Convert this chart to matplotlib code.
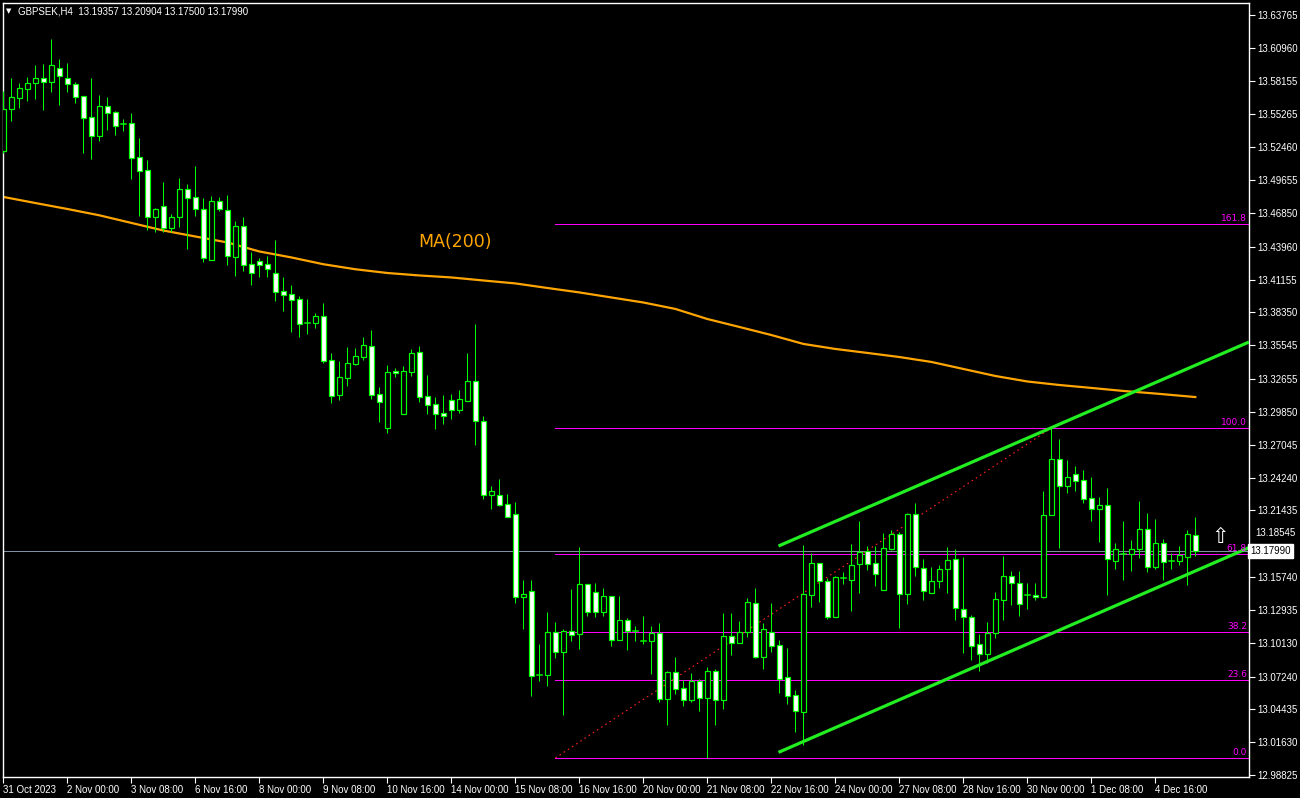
import matplotlib
matplotlib.use("Agg")
import matplotlib.pyplot as plt
from matplotlib.patches import Rectangle
import matplotlib.transforms as mtransforms

# ---------------- data ----------------
symbol_title = "GBPSEK,H4  13.19357 13.20904 13.17500 13.17990"

opens = [
13.5217, 13.5571, 13.5665, 13.5747, 13.5793, 13.5836, 13.5807, 13.5921, 13.5836, 13.5785,
13.5682, 13.5503, 13.5345, 13.5597, 13.5545, 13.5443, 13.5451, 13.5161, 13.5050, 13.4653,
13.4742, 13.4559, 13.4653, 13.4887, 13.4819, 13.4717, 13.4281, 13.4785, 13.4708, 13.4312,
13.4571, 13.4247, 13.4272, 13.4247, 13.4170, 13.4016, 13.3990, 13.3948, 13.3748, 13.3748,
13.3805, 13.3426, 13.3132, 13.3278, 13.3397, 13.3457, 13.3546, 13.3136, 13.2850, 13.3332,
13.2970, 13.3329, 13.3495, 13.3118, 13.3050, 13.2973, 13.3084, 13.3004, 13.3081, 13.3247,
13.2905, 13.2278, 13.2273, 13.2196, 13.2110, 13.1406, 13.1452, 13.0737, 13.0740, 13.1102,
13.0936, 13.1116, 13.1085, 13.1512, 13.1444, 13.1278, 13.1410, 13.1034, 13.1205, 13.1116,
13.1025, 13.1025, 13.1093, 13.0530, 13.0760, 13.0624, 13.0526, 13.0686, 13.0543, 13.0771,
13.0521, 13.1068, 13.1013, 13.1102, 13.1350, 13.0894, 13.1107, 13.0991, 13.0718, 13.0564,
13.0424, 13.1423, 13.1692, 13.1540, 13.1235, 13.1566, 13.1551, 13.1683, 13.1794, 13.1692,
13.1461, 13.1816, 13.1939, 13.1427, 13.2110, 13.1654, 13.1440, 13.1538, 13.1640, 13.1726,
13.1299, 13.1230, 13.1000, 13.0914, 13.1093, 13.1380, 13.1581, 13.1521, 13.1423, 13.1418,
13.1406, 13.2107, 13.2580, 13.2355, 13.2452, 13.2401, 13.2247, 13.2158, 13.2187, 13.1714,
13.1774, 13.1774, 13.1816, 13.1982, 13.1662, 13.1868, 13.1714, 13.1714, 13.1748, 13.19357]

highs = [
13.5727, 13.5836, 13.5793, 13.5845, 13.5950, 13.5958, 13.6172, 13.6001, 13.5967, 13.5802,
13.5682, 13.5836, 13.5693, 13.5676, 13.5557, 13.5488, 13.5539, 13.5328, 13.5138, 13.4725,
13.4950, 13.4676, 13.4984, 13.4933, 13.5086, 13.4810, 13.4830, 13.4819, 13.4839, 13.4617,
13.4651, 13.4349, 13.4300, 13.4318, 13.4454, 13.4138, 13.4070, 13.3976, 13.3950, 13.3828,
13.3916, 13.3491, 13.3420, 13.3540, 13.3531, 13.3625, 13.3685, 13.3198, 13.3386, 13.3358,
13.3378, 13.3520, 13.3546, 13.3301, 13.3110, 13.3130, 13.3138, 13.3172, 13.3489, 13.3736,
13.2950, 13.2352, 13.2412, 13.2284, 13.2215, 13.1549, 13.1549, 13.1002, 13.1275, 13.1190,
13.1130, 13.1472, 13.1831, 13.1512, 13.1523, 13.1481, 13.1410, 13.1412, 13.1222, 13.1156,
13.1241, 13.1156, 13.1182, 13.0771, 13.0891, 13.0692, 13.0752, 13.0703, 13.0806, 13.0788,
13.1267, 13.1267, 13.1199, 13.1395, 13.1481, 13.1179, 13.1352, 13.1036, 13.0968, 13.0606,
13.1848, 13.1780, 13.1692, 13.1563, 13.1583, 13.1617, 13.1856, 13.2050, 13.1839, 13.1839,
13.1950, 13.1976, 13.1962, 13.2121, 13.2204, 13.1728, 13.1657, 13.1677, 13.1831, 13.1811,
13.1745, 13.1247, 13.1088, 13.1187, 13.1446, 13.1754, 13.1626, 13.1626, 13.1523, 13.1523,
13.2309, 13.2850, 13.2754, 13.2572, 13.2521, 13.2486, 13.2427, 13.2256, 13.2333, 13.1863,
13.2050, 13.1888, 13.2224, 13.2119, 13.2068, 13.1897, 13.1777, 13.1837, 13.1976, 13.20904]

lows = [
13.5200, 13.5474, 13.5585, 13.5645, 13.5662, 13.5565, 13.5721, 13.5608, 13.5721, 13.5627,
13.5200, 13.5149, 13.5303, 13.5397, 13.5351, 13.5386, 13.4975, 13.4659, 13.4540, 13.4525,
13.4525, 13.4525, 13.4568, 13.4380, 13.4659, 13.4269, 13.4281, 13.4702, 13.4241, 13.4147,
13.4189, 13.4070, 13.4141, 13.4141, 13.3933, 13.3848, 13.3668, 13.3625, 13.3654, 13.3702,
13.3406, 13.3061, 13.3087, 13.3207, 13.3389, 13.3431, 13.3098, 13.2899, 13.2808, 13.3286,
13.2970, 13.3295, 13.3073, 13.2970, 13.2842, 13.2885, 13.2927, 13.2979, 13.3081, 13.2703,
13.2244, 13.2158, 13.2184, 13.2090, 13.1355, 13.1130, 13.0558, 13.0688, 13.0643, 13.0885,
13.0395, 13.1028, 13.0962, 13.1244, 13.1235, 13.1244, 13.0988, 13.1034, 13.0953, 13.1028,
13.1005, 13.0748, 13.0509, 13.0312, 13.0577, 13.0475, 13.0509, 13.0432, 13.0025, 13.0312,
13.0449, 13.0908, 13.1013, 13.1064, 13.0882, 13.0788, 13.0934, 13.0586, 13.0492, 13.0253,
13.0139, 13.1321, 13.1364, 13.1213, 13.1235, 13.1517, 13.1284, 13.1440, 13.1634, 13.1500,
13.1461, 13.1805, 13.1141, 13.1346, 13.1586, 13.1381, 13.1440, 13.1481, 13.1440, 13.1210,
13.0928, 13.0865, 13.0774, 13.0837, 13.1051, 13.1207, 13.1335, 13.1241, 13.1301, 13.1378,
13.1398, 13.2107, 13.1822, 13.2292, 13.2307, 13.2209, 13.2056, 13.1874, 13.1423, 13.1646,
13.1551, 13.1628, 13.1739, 13.1620, 13.1646, 13.1551, 13.1646, 13.1680, 13.1508, 13.17500]

closes = [
13.5571, 13.5674, 13.5751, 13.5793, 13.5836, 13.5807, 13.5947, 13.5858, 13.5785, 13.5679,
13.5499, 13.5345, 13.5597, 13.5542, 13.5431, 13.5443, 13.5157, 13.5046, 13.4653, 13.4717,
13.4559, 13.4648, 13.4887, 13.4810, 13.4717, 13.4303, 13.4785, 13.4722, 13.4320, 13.4571,
13.4243, 13.4175, 13.4243, 13.4209, 13.4012, 13.3987, 13.3944, 13.3739, 13.3748, 13.3805,
13.3423, 13.3124, 13.3284, 13.3401, 13.3460, 13.3554, 13.3132, 13.3073, 13.3324, 13.3315,
13.3332, 13.3486, 13.3115, 13.3047, 13.2970, 13.2953, 13.3004, 13.3093, 13.3247, 13.2910,
13.2278, 13.2307, 13.2192, 13.2090, 13.1401, 13.1429, 13.0731, 13.0737, 13.1102, 13.0936,
13.1116, 13.1081, 13.1512, 13.1273, 13.1273, 13.1410, 13.1039, 13.1205, 13.1116, 13.1116,
13.1025, 13.1093, 13.0530, 13.0760, 13.0620, 13.0526, 13.0686, 13.0543, 13.0771, 13.0521,
13.1068, 13.1008, 13.1102, 13.1358, 13.0894, 13.1128, 13.0988, 13.0706, 13.0560, 13.0432,
13.1427, 13.1692, 13.1543, 13.1235, 13.1572, 13.1566, 13.1674, 13.1785, 13.1683, 13.1598,
13.1820, 13.1939, 13.1427, 13.2113, 13.1657, 13.1452, 13.1538, 13.1640, 13.1717, 13.1312,
13.1230, 13.0988, 13.0914, 13.1093, 13.1384, 13.1581, 13.1526, 13.1341, 13.1423, 13.1401,
13.2107, 13.2580, 13.2355, 13.2427, 13.2397, 13.2244, 13.2158, 13.2187, 13.1726, 13.1811,
13.1774, 13.1811, 13.1982, 13.1662, 13.1868, 13.1700, 13.1714, 13.1760, 13.1939, 13.17990]

# MA(200) readings (bar index, value)
ma_bars = [0, 4, 8, 12, 16, 20, 24, 28, 32, 36, 40, 44, 48, 52, 56, 60, 64, 68, 72, 76,
           80, 84, 88, 92, 96, 100, 104, 108, 112, 116, 120, 124, 128, 132, 136, 140, 144, 149]
ma_values = [13.4822, 13.4770, 13.4719, 13.4665, 13.4600, 13.4535, 13.4484, 13.4433, 13.4356,
             13.4305, 13.4247, 13.4204, 13.4172, 13.4151, 13.4134, 13.4108, 13.4083, 13.4044,
             13.4006, 13.3963, 13.3920, 13.3865, 13.3779, 13.3711, 13.3642, 13.3566, 13.3523,
             13.3489, 13.3454, 13.3412, 13.3352, 13.3292, 13.3245, 13.3215, 13.3190, 13.3164,
             13.3142, 13.3112]

# Fibonacci retracement
fib_bars = [69, 131]
fib_prices = [13.0028, 13.2847]
fib_levels = [0.0, 23.6, 38.2, 61.8, 100.0, 161.8]

# Channel (bar index, price) endpoints
chan_bars = [96.9, 155.7]
chan_upper = [13.1839, 13.3582]
chan_lower = [13.0076, 13.1825]

current_price = 13.17990

ytick_labels = ["13.63765", "13.60960", "13.58155", "13.55265", "13.52460", "13.49655",
                "13.46850", "13.43960", "13.41155", "13.38350", "13.35545", "13.32655",
                "13.29850", "13.27045", "13.24240", "13.21435", "13.18545", "13.15740",
                "13.12935", "13.10130", "13.07240", "13.04435", "13.01630", "12.98825"]

xtick_bars = [0, 8, 16, 24, 32, 40, 48, 56, 64, 72, 80, 88, 96, 104, 112, 120, 128, 136, 144]
xtick_labels = ["31 Oct 2023", "2 Nov 00:00", "3 Nov 08:00", "6 Nov 16:00", "8 Nov 00:00",
                "9 Nov 08:00", "10 Nov 16:00", "14 Nov 00:00", "15 Nov 08:00", "16 Nov 16:00",
                "20 Nov 00:00", "21 Nov 08:00", "22 Nov 16:00", "24 Nov 00:00", "27 Nov 08:00",
                "28 Nov 16:00", "30 Nov 00:00", "1 Dec 08:00", "4 Dec 16:00"]

# ---------------- figure ----------------
W, H = 1300, 798
fig = plt.figure(figsize=(W / 100, H / 100), dpi=100, facecolor="black")
ax = fig.add_axes([3 / W, (H - 777) / H, (1249 - 3) / W, (777 - 3) / H])
ax.set_facecolor("black")
ax.set_xlim(-0.04, 155.71)
ax.set_ylim(12.98653, 13.64791)

green = "#00ff00"
px = 0.72  # one pixel in points

# candles
for i, (o, h, l, c) in enumerate(zip(opens, highs, lows, closes)):
    ax.plot([i, i], [l, h], color=green, lw=px, zorder=3, solid_capstyle="butt")
    if abs(c - o) < 0.00015:
        ax.plot([i - 0.3, i + 0.3], [o, o], color=green, lw=px * 1.5, zorder=4)
    else:
        fc = "white" if c < o else "black"
        ax.add_patch(Rectangle((i - 0.28, min(o, c)), 0.56, abs(c - o),
                               facecolor=fc, edgecolor=green, lw=px * 1.2, zorder=4))

# MA(200)
ax.plot(ma_bars, ma_values, color="#ffa500", lw=1.6, zorder=2)
ax.text(452 / 8, 13.4439, "MA(200)", color="#ffa500", fontsize=12.5,
        ha="center", va="center", family="DejaVu Sans", zorder=5)

# Fibonacci
f0, f1 = fib_prices
for lev in fib_levels:
    p = f0 + (f1 - f0) * lev / 100.0
    ax.plot([fib_bars[0], 160], [p, p], color="#ff00ff", lw=px, zorder=2)
    ax.text(155.45, p + 0.0006, f"{lev:.1f}", color="#ff00ff", fontsize=6.5,
            ha="right", va="bottom", family="DejaVu Sans", zorder=6)
ax.plot(fib_bars, fib_prices, color="#ff2020", lw=0.8, ls=(0, (1.5, 3)), zorder=2)

# channel
ax.plot(chan_bars, chan_upper, color="#22ee22", lw=2.3, zorder=5, solid_capstyle="butt")
ax.plot(chan_bars, chan_lower, color="#22ee22", lw=2.3, zorder=5, solid_capstyle="butt")

# current price line
ax.axhline(current_price, color="#8090a0", lw=px, zorder=1)

# arrow
ax.text(152.1, 13.1917, "\u21e7", color="white", fontsize=15, ha="center", va="center",
        family="DejaVu Sans", zorder=6)

# axes styling
for s in ax.spines.values():
    s.set_color("white")
    s.set_linewidth(1)
ax.yaxis.tick_right()
ytick_vals = [float(t) for t in ytick_labels]
ax.set_yticks(ytick_vals)
shifted = "13.18545"  # label pushed up by the price box, as in the terminal
ax.set_yticklabels(["" if t == shifted else t for t in ytick_labels])
ax.set_xticks(xtick_bars)
ax.set_xticklabels(xtick_labels)
ax.tick_params(axis="both", colors="white", length=4, width=0.8, labelsize=7, direction="out")
ax.tick_params(axis="y", pad=2)
ax.tick_params(axis="x", pad=2)
for lab in ax.get_xticklabels():
    lab.set_ha("left")
    lab.set_family("Liberation Sans")
for lab in ax.get_yticklabels():
    lab.set_family("Liberation Sans")

trans = mtransforms.blended_transform_factory(ax.transAxes, ax.transData)
off = mtransforms.ScaledTranslation(6 / 100, 11 / 100, fig.dpi_scale_trans)
ax.text(1.0, float(shifted), shifted, transform=trans + off, ha="left", va="center",
        color="white", fontsize=7, family="Liberation Sans", clip_on=False)

# current price box on the axis
ax.text(1.001, current_price, "13.17990", transform=trans, ha="left", va="center",
        color="black", fontsize=7, family="Liberation Sans", zorder=10, clip_on=False,
        bbox=dict(boxstyle="square,pad=0.2", facecolor="white", edgecolor="white"))

# title
fig.text(6 / W, 1 - 11 / H, "\u25bc", color="white", fontsize=5, va="center", ha="left",
         family="DejaVu Sans")
fig.text(18 / W, 1 - 11 / H, symbol_title, color="white", fontsize=7, va="center",
         ha="left", family="Liberation Sans")

fig.savefig("out.png", dpi=100, facecolor="black")
